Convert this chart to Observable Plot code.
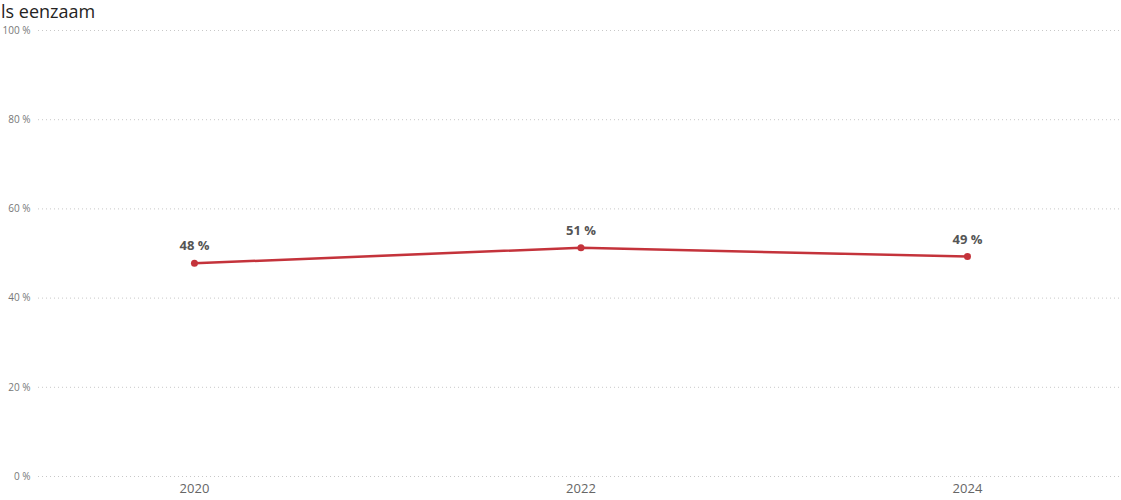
<!DOCTYPE html>
<html>
<head>
<meta charset="utf-8">
<script src="https://cdn.jsdelivr.net/npm/d3@7"></script>
<script src="https://cdn.jsdelivr.net/npm/@observablehq/plot@0.6"></script>
<style>
  html, body { margin: 0; padding: 0; background: #fff; }
  #wrap { position: relative; width: 1121px; height: 500px; overflow: hidden; }
  #title { position: absolute; left: 1px; top: 1px; font-family: "Open Sans", sans-serif; font-size: 18px; line-height: 20px; color: #252423; white-space: nowrap; }
  #chart { position: absolute; left: 0; top: 0; }
</style>
</head>
<body>
<div id="wrap">
  <div id="chart"></div>
  <div id="title">ls eenzaam</div>
</div>
<script>
const years = [2020, 2022, 2024];
const values = [47.8, 51.3, 49.3];
const yTicks = [0, 20, 40, 60, 80, 100];
const xTicks = [2020, 2022, 2024];

const data = years.map((y, i) => ({year: y, value: values[i]}));
const red = "#C4333B";

const chart = Plot.plot({
  width: 1121,
  height: 500,
  marginLeft: 38,
  marginRight: 0,
  marginTop: 30,
  marginBottom: 24,
  style: {fontFamily: "Open Sans, sans-serif", background: "#fff"},
  x: {domain: [2019.193, 2024.797], ticks: xTicks, tickFormat: d => String(d), label: null},
  y: {domain: [0, 100], ticks: yTicks, label: null},
  marks: [
    Plot.ruleY(yTicks, {stroke: "#c8c8c8", strokeDasharray: "1,3", strokeWidth: 1}),
    Plot.axisY({ticks: yTicks, tickSize: 0, tickPadding: 8, tickFormat: d => `${d} %`, fontSize: 10, fill: "#777", label: null}),
    Plot.axisX({ticks: xTicks, tickSize: 0, tickPadding: 7, tickFormat: d => String(d), fontSize: 13, fill: "#666", label: null}),
    Plot.line(data, {x: "year", y: "value", stroke: red, strokeWidth: 2.5}),
    Plot.dot(data, {x: "year", y: "value", fill: red, r: 3.5}),
    Plot.text(data, {x: "year", y: "value", text: d => `${Math.round(d.value)} %`, dy: -17, fontSize: 13, fontWeight: "bold", fill: "#555"})
  ]
});
document.getElementById("chart").appendChild(chart);
</script>
</body>
</html>
